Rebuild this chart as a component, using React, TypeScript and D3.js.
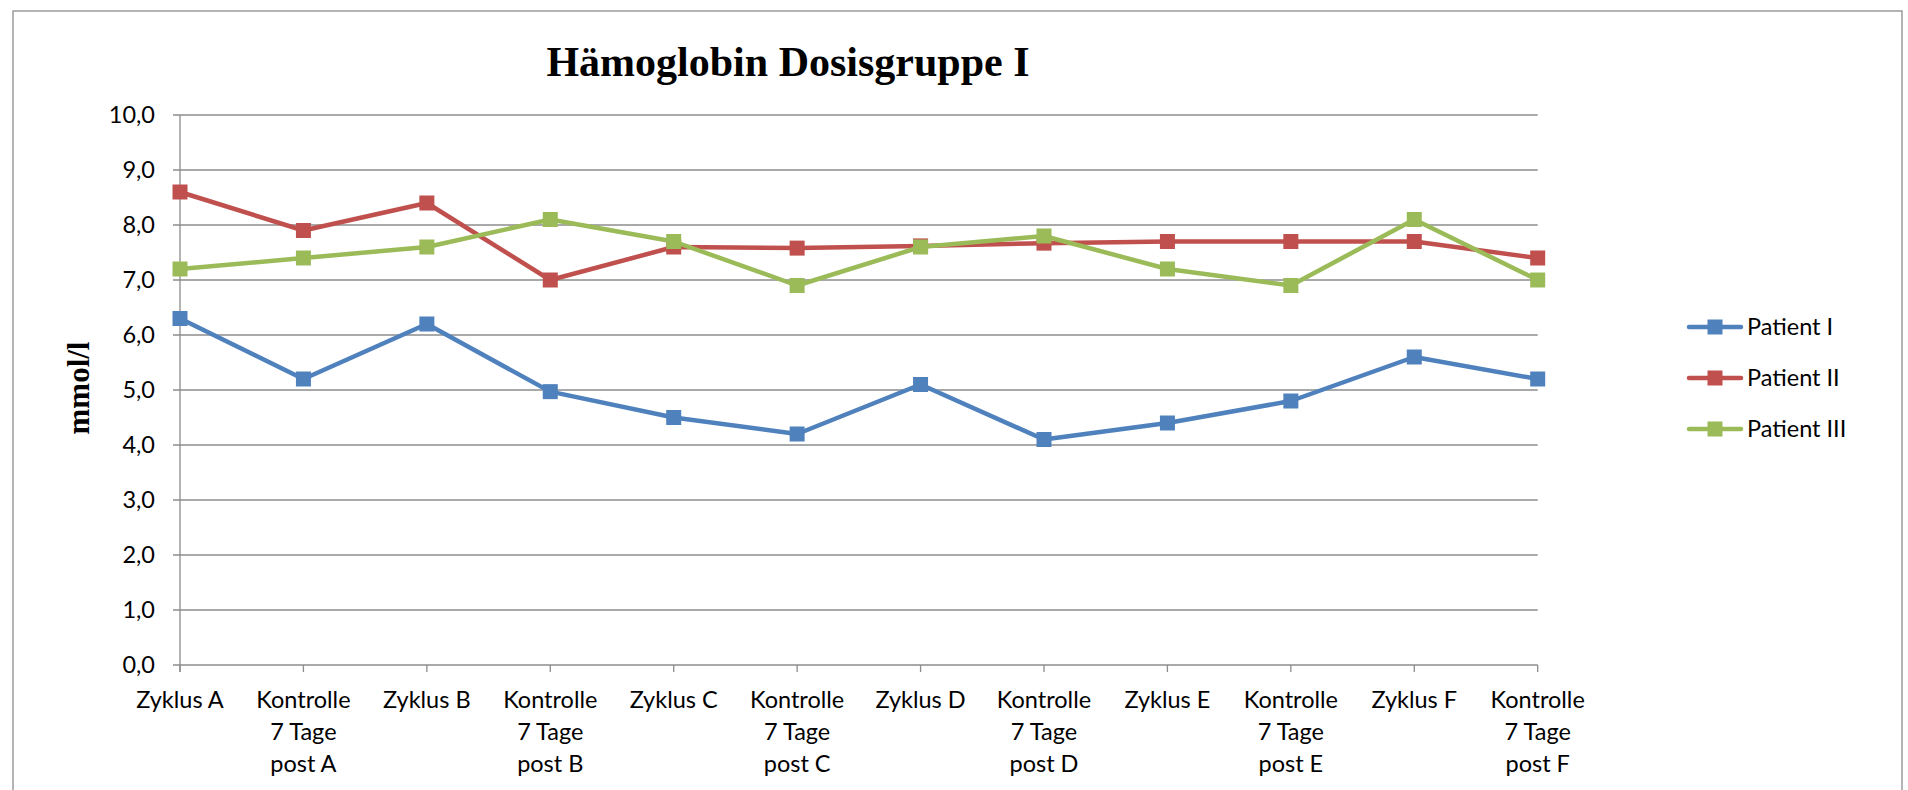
import React, { useEffect, useRef } from 'react'
import * as d3 from 'd3'

const categories = [
  'Zyklus A', 'Kontrolle\n7 Tage\npost A', 'Zyklus B', 'Kontrolle\n7 Tage\npost B',
  'Zyklus C', 'Kontrolle\n7 Tage\npost C', 'Zyklus D', 'Kontrolle\n7 Tage\npost D',
  'Zyklus E', 'Kontrolle\n7 Tage\npost E', 'Zyklus F', 'Kontrolle\n7 Tage\npost F',
]
const patientI = [6.3, 5.2, 6.2, 4.97, 4.5, 4.2, 5.1, 4.1, 4.4, 4.8, 5.6, 5.2]
const patientII = [8.6, 7.9, 8.4, 7.0, 7.6, 7.58, 7.62, 7.67, 7.7, 7.7, 7.7, 7.4]
const patientIII = [7.2, 7.4, 7.6, 8.1, 7.7, 6.9, 7.6, 7.8, 7.2, 6.9, 8.1, 7.0]
const seriesNames = ['Patient I', 'Patient II', 'Patient III']
const seriesColors = ['#4F81BD', '#C0504D', '#9BBB59']
const yTicks = [0, 1, 2, 3, 4, 5, 6, 7, 8, 9, 10]

export default function App() {
  const ref = useRef<SVGSVGElement>(null)

  useEffect(() => {
    const width = 1908, height = 790
    const svg = d3.select(ref.current)
      .attr('width', width)
      .attr('height', height)
    svg.selectAll('*').remove()

    const font = 'Lato, "Open Sans", sans-serif'
    const fs = '23.5px'
    const gray = '#8c8c8c'

    svg.append('rect')
      .attr('x', 13).attr('y', 11)
      .attr('width', 1889).attr('height', 820)
      .attr('fill', 'white').attr('stroke', gray).attr('stroke-width', 1.3)

    const x = d3.scalePoint<number>()
      .domain(d3.range(categories.length))
      .range([180, 1537.7])
    const y = d3.scaleLinear().domain([0, 10]).range([665, 115])

    // gridlines
    svg.append('g').selectAll('line')
      .data(yTicks)
      .enter().append('line')
      .attr('x1', 173).attr('x2', 1537.7)
      .attr('y1', d => y(d)).attr('y2', d => y(d))
      .attr('stroke', gray).attr('stroke-width', 1.3)

    // y axis
    svg.append('line')
      .attr('x1', 180).attr('x2', 180)
      .attr('y1', y(10)).attr('y2', y(0) + 7)
      .attr('stroke', gray).attr('stroke-width', 1.3)

    svg.append('g').selectAll('text')
      .data(yTicks)
      .enter().append('text')
      .attr('x', 155).attr('y', d => y(d))
      .attr('dy', '0.35em')
      .attr('text-anchor', 'end')
      .style('font-family', font).style('font-size', fs)
      .text(d => d.toFixed(1).replace('.', ','))

    // x ticks
    svg.append('g').selectAll('line')
      .data(d3.range(categories.length))
      .enter().append('line')
      .attr('x1', d => x(d)!).attr('x2', d => x(d)!)
      .attr('y1', y(0)).attr('y2', y(0) + 7)
      .attr('stroke', gray).attr('stroke-width', 1.3)

    const xl = svg.append('g').selectAll('text')
      .data(categories)
      .enter().append('text')
      .attr('text-anchor', 'middle')
      .style('font-family', font).style('font-size', fs)
    xl.each(function (d, i) {
      const t = d3.select(this)
      d.split('\n').forEach((line, j) => {
        t.append('tspan')
          .attr('x', x(i)!)
          .attr('y', 708 + j * 32)
          .text(line)
      })
    })

    // series
    const allSeries = [patientI, patientII, patientIII]
    const lineGen = d3.line<number>()
      .x((_, i) => x(i)!)
      .y(d => y(d))

    allSeries.forEach((s, k) => {
      svg.append('path')
        .attr('d', lineGen(s))
        .attr('fill', 'none')
        .attr('stroke', seriesColors[k])
        .attr('stroke-width', 4.5)
        .attr('stroke-linejoin', 'round')
        .attr('stroke-linecap', 'round')
      svg.append('g').selectAll('rect')
        .data(s)
        .enter().append('rect')
        .attr('x', (_, i) => x(i)! - 7.5)
        .attr('y', d => y(d) - 7.5)
        .attr('width', 15).attr('height', 15)
        .attr('fill', seriesColors[k])
    })

    // legend
    const leg = svg.append('g')
    seriesNames.forEach((name, k) => {
      const ly = 327 + k * 51
      leg.append('line')
        .attr('x1', 1689).attr('x2', 1741)
        .attr('y1', ly).attr('y2', ly)
        .attr('stroke', seriesColors[k]).attr('stroke-width', 4.5)
        .attr('stroke-linecap', 'round')
      leg.append('rect')
        .attr('x', 1707.5).attr('y', ly - 7.5)
        .attr('width', 15).attr('height', 15)
        .attr('fill', seriesColors[k])
      leg.append('text')
        .attr('x', 1747).attr('y', ly)
        .attr('dy', '0.35em')
        .style('font-family', font).style('font-size', fs)
        .text(name)
    })

    // title
    svg.append('text')
      .attr('x', 788).attr('y', 76)
      .attr('text-anchor', 'middle')
      .style('font-family', '"Liberation Serif", "Times New Roman", serif')
      .style('font-weight', 'bold').style('font-size', '42px')
      .text('Hämoglobin Dosisgruppe I')

    // y axis title
    svg.append('text')
      .attr('transform', 'translate(78,388) rotate(-90)')
      .attr('text-anchor', 'middle')
      .attr('dy', '0.35em')
      .style('font-family', '"Liberation Serif", "Times New Roman", serif')
      .style('font-weight', 'bold').style('font-size', '31px')
      .text('mmol/l')
  }, [])

  return (
    <svg ref={ref} style={{ position: 'absolute', left: 0, top: 0 }}></svg>
  )
}
